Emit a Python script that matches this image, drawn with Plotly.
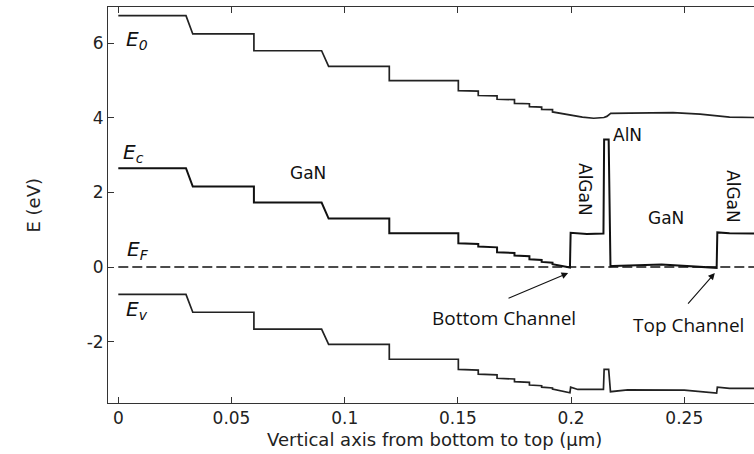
import plotly.graph_objects as go

# ---------------- data ----------------
E0_x = [0, 0.0299, 0.0329, 0.0599, 0.0599, 0.0898, 0.0929, 0.1197, 0.1197, 0.1502, 0.1502,
        0.159, 0.159, 0.1673, 0.1673, 0.175, 0.175, 0.1816, 0.1816, 0.187, 0.187, 0.1918, 0.1918,
        0.1995, 0.205, 0.21, 0.2145, 0.2158, 0.2175, 0.226, 0.245, 0.257, 0.2643, 0.27, 0.281]
E0_y = [6.74, 6.74, 6.25, 6.25, 5.80, 5.80, 5.38, 5.38, 5.00, 5.00, 4.73,
        4.72, 4.60, 4.59, 4.50, 4.49, 4.39, 4.38, 4.30, 4.29, 4.23, 4.22, 4.16,
        4.08, 4.02, 3.99, 4.01, 4.04, 4.12, 4.13, 4.14, 4.10, 4.05, 4.02, 4.01]

Ec_x = [0, 0.0299, 0.0329, 0.0599, 0.0599, 0.0898, 0.0929, 0.1197, 0.1197, 0.1502, 0.1502,
        0.159, 0.159, 0.1673, 0.1673, 0.175, 0.175, 0.1816, 0.1816, 0.187, 0.187, 0.1918, 0.1918,
        0.1995, 0.1998, 0.207, 0.2143, 0.2146, 0.2166, 0.2174, 0.2185, 0.24, 0.2643, 0.2646, 0.27, 0.281]
Ec_y = [2.65, 2.65, 2.16, 2.16, 1.73, 1.73, 1.30, 1.30, 0.91, 0.91, 0.64,
        0.62, 0.55, 0.53, 0.40, 0.38, 0.31, 0.29, 0.21, 0.19, 0.14, 0.12, 0.08,
        -0.01, 0.92, 0.89, 0.90, 3.42, 3.42, 0.02, 0.03, 0.07, -0.02, 0.93, 0.91, 0.90]

Ev_x = [0, 0.0299, 0.0329, 0.0599, 0.0599, 0.0898, 0.0929, 0.1197, 0.1197, 0.1502, 0.1502,
        0.159, 0.159, 0.1673, 0.1673, 0.175, 0.175, 0.1816, 0.1816, 0.187, 0.187, 0.1918, 0.1918,
        0.1995, 0.1998, 0.203, 0.2143, 0.2146, 0.2166, 0.2174, 0.225, 0.25, 0.2643, 0.2646, 0.27, 0.281]
Ev_y = [-0.73, -0.73, -1.21, -1.21, -1.66, -1.66, -2.07, -2.07, -2.47, -2.47, -2.74,
        -2.76, -2.87, -2.89, -2.98, -3.00, -3.07, -3.09, -3.16, -3.18, -3.22, -3.24, -3.27,
        -3.37, -3.22, -3.28, -3.28, -2.74, -2.74, -3.34, -3.29, -3.30, -3.38, -3.22, -3.25, -3.25]

EF_x = [0, 0.281]
EF_y = [0, 0]

x_tickvals = [0, 0.05, 0.1, 0.15, 0.2, 0.25]
x_ticktext = ["0", "0.05", "0.1", "0.15", "0.2", "0.25"]
y_tickvals = [-2, 0, 2, 4, 6]
y_ticktext = ["-2", "0", "2", "4", "6"]

# ---------------- figure ----------------
fig = go.Figure()
fig.add_trace(go.Scatter(x=E0_x, y=E0_y, mode="lines", line=dict(color="#222", width=1.7), hoverinfo="skip"))
fig.add_trace(go.Scatter(x=Ec_x, y=Ec_y, mode="lines", line=dict(color="#111", width=2), hoverinfo="skip"))
fig.add_trace(go.Scatter(x=Ev_x, y=Ev_y, mode="lines", line=dict(color="#222", width=1.7), hoverinfo="skip"))
fig.add_trace(go.Scatter(x=EF_x, y=EF_y, mode="lines", line=dict(color="#111", width=1.5, dash="10px,4px"), hoverinfo="skip"))

axfont = dict(family="DejaVu Sans", size=17, color="#222")
fig.update_layout(
    width=754, height=454,
    margin=dict(l=108, r=0, t=7, b=51),
    plot_bgcolor="white", paper_bgcolor="white",
    showlegend=False,
    xaxis=dict(range=[-0.00455, 0.2808], showline=True, linecolor="#333", linewidth=1,
               mirror="ticks", ticks="inside", ticklen=6, tickcolor="#333",
               tickvals=x_tickvals, ticktext=x_ticktext, tickfont=axfont,
               showgrid=False, zeroline=False),
    yaxis=dict(range=[-3.643, 6.973], showline=True, linecolor="#333", linewidth=1,
               mirror=False, ticks="inside", ticklen=6, tickcolor="#333",
               tickvals=y_tickvals, ticktext=y_ticktext, tickfont=axfont,
               showgrid=False, zeroline=False),
)

efont = dict(family="DejaVu Sans", size=20, color="#111")
lfont = dict(family="DejaVu Sans", size=17, color="#111")
cfont = dict(family="Open Sans", size=19, color="#111")

ann = [
    dict(x=0.0025, y=6.08, text="<i>E</i><sub><i>0</i></sub>", xanchor="left", yanchor="middle", font=efont),
    dict(x=0.0012, y=3.06, text="<i>E</i><sub><i>c</i></sub>", xanchor="left", yanchor="middle", font=efont),
    dict(x=0.003, y=0.46, text="<i>E</i><sub><i>F</i></sub>", xanchor="left", yanchor="middle", font=efont),
    dict(x=0.0026, y=-1.16, text="<i>E</i><sub><i>v</i></sub>", xanchor="left", yanchor="middle", font=efont),
    dict(x=0.0838, y=2.52, text="GaN", font=lfont),
    dict(x=0.2061, y=2.07, text="AlGaN", textangle=90, font=lfont),
    dict(x=0.2247, y=3.54, text="AlN", font=lfont),
    dict(x=0.2419, y=1.32, text="GaN", font=lfont),
    dict(x=0.2715, y=1.88, text="AlGaN", textangle=90, font=lfont),
    dict(x=0.1704, y=-1.36, text="Bottom Channel", font=cfont),
    dict(x=0.252, y=-1.56, text="Top Channel", font=cfont),
]
for a in ann:
    a.update(xref="x", yref="y", showarrow=False)
    fig.add_annotation(**a)

# arrows
fig.add_annotation(x=0.1987, y=-0.16, ax=0.1717, ay=-0.855, xref="x", yref="y", axref="x", ayref="y",
                   text="", showarrow=True, arrowhead=2, arrowsize=1.2, arrowwidth=1.1, arrowcolor="#111")
fig.add_annotation(x=0.2635, y=-0.16, ax=0.2511, ay=-1.02, xref="x", yref="y", axref="x", ayref="y",
                   text="", showarrow=True, arrowhead=2, arrowsize=1.2, arrowwidth=1.1, arrowcolor="#111")

# axis titles
fig.add_annotation(x=0, y=0.5, xref="paper", yref="paper", xshift=-88, text="E (eV)", textangle=-90,
                   showarrow=False, font=dict(family="DejaVu Sans", size=18, color="#222"))
fig.add_annotation(x=0.506, y=0, xref="paper", yref="paper", yshift=-36, yanchor="middle",
                   text="Vertical axis from bottom to top (µm)", showarrow=False,
                   font=dict(family="DejaVu Sans", size=18, color="#222"))

fig.write_html("out.html")
